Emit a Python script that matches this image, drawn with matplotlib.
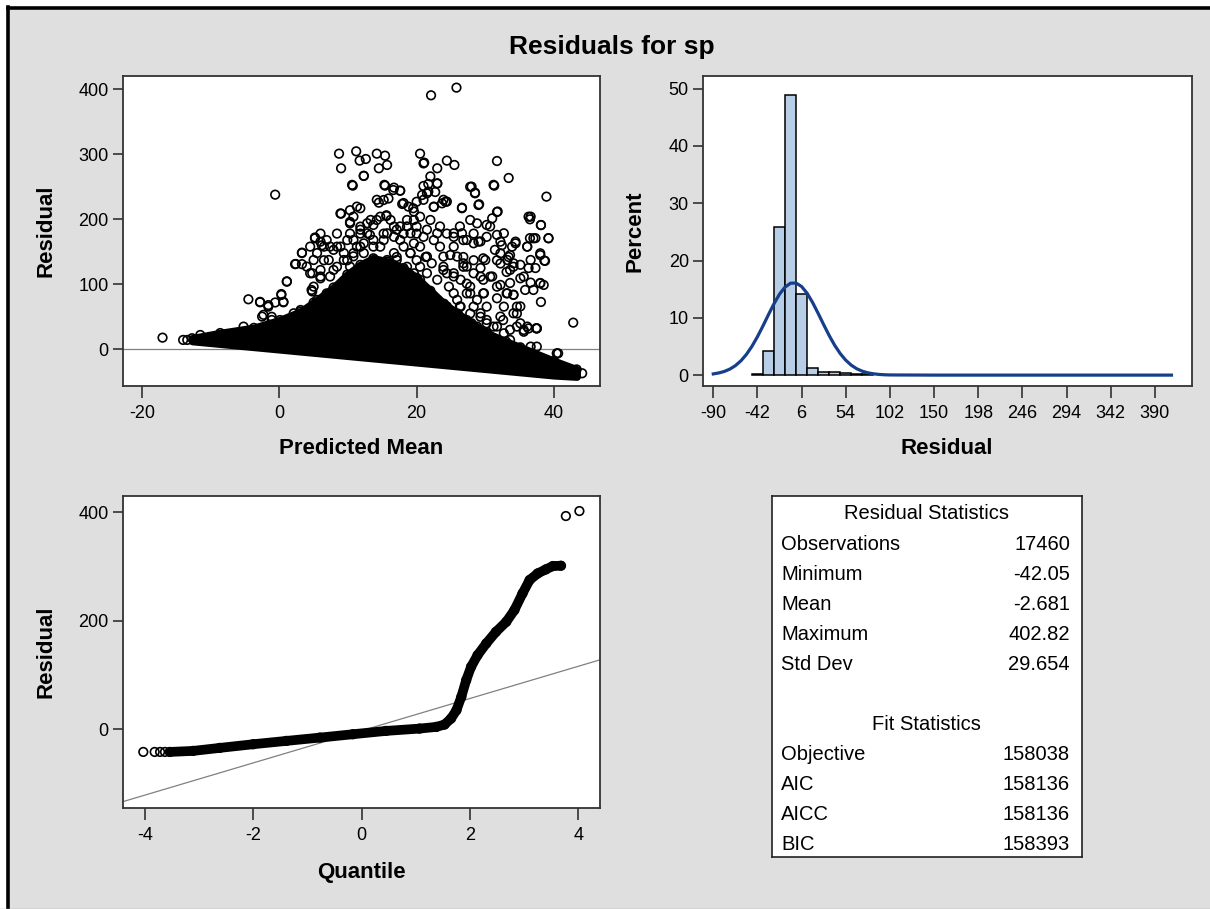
import numpy as np
import matplotlib
matplotlib.use("Agg")
import matplotlib.pyplot as plt
from matplotlib.lines import Line2D
from matplotlib.patches import Rectangle

plt.rcParams['font.family'] = ['Liberation Sans', 'DejaVu Sans']
plt.rcParams['axes.unicode_minus'] = False

W, H = 1210, 909

# ---- data ----
title = "Residuals for sp"

# residual vs predicted: outlying / sparse points (predicted mean, residual)
pred_pts = [25.8, 22.1, -0.6, -17.0, -14.0, -13.4, 8.7, 11.2, 9.0, 11.7, 12.6, 14.2, 15.4, 14.5, 15.7,
            12.3, 10.7, 20.5, 21.1, 24.4, 25.5, 23.0, 31.7, 33.4, 31.3, 38.9, 28.0, 28.5, 29.1, 26.6,
            42.8, 44.1, 31.7, 38.1, 39.2, 38.6, 38.1, 37.4, 40.6, 9.0, 5.2, 3.3, 1.1, 2.4, -4.5,
            -2.8, -1.6, 0.3, 0.6, -2.5, -1.1, -5.2, 4.7, 6.0, 15.4, 16.7, 17.6, 21.0, 23.0, 36.6,
            37.0, 36.1, 35.1, 36.6, 34.1, 36.1, 37.5, 36.6, 11.3, 10.8, 10.3, 11.8, 13.7, 14.5, 15.2,
            15.6, 17.9, 18.8, 19.6, 21.7, 20.8, 21.7, 22.5, 23.7, 24.4, 26.6, 25.4, 27.3, 28.3, 29.0,
            28.8, 30.2, 31.0, 32.7, 32.2, 33.9, 34.4, 32.2, 33.2, 34.1, 33.6, 36.6, 38.0, 35.6, 38.0,
            30.7, 31.7, 33.2, 29.8, 31.7, 32.7, 34.1, 35.1, 35.6, 28.3, 29.3, 27.3, 28.3, 29.3, 30.0,
            25.4, 25.9, 26.8, 27.8, 24.4, 24.7, 23.0, 23.4, 23.9, 20.5, 21.5, 22.2, 19.1, 20.0, 19.6,
            17.6, 16.7, 15.7, 13.7, 14.7, 15.7, 17.1, 10.8, 11.8, 12.8, 8.4, 9.4, 10.3, 11.3, 11.8,
            6.5, 7.2, 7.9, 8.9, 6.0, 5.0, 4.5, 4.0, 5.0, 3.1, 2.1, 30.2, 31.2, 32.7, 33.6, 34.6,
            32.2, 30.2, 34.6, 37.0, 35.8, 38.5, 40.0, 40.4, 37.5, 42.0, 42.9, 19.6, 20.5, 21.5, 23.0,
            25.4, 26.4, 23.4, 24.9, 26.8, 27.8, 20.5, 19.1, -11.5, -6.2]
resid_pts = [402.6, 390.8, 237.9, 17.9, 14.4, 14.4, 301.0, 304.6, 278.5, 290.3, 292.8, 301.0, 297.9, 278.5, 283.6,
             266.7, 251.8, 301.0, 287.2, 290.3, 283.6, 278.5, 289.7, 263.6, 251.8, 234.9, 250.3, 241.0, 223.1, 217.9,
             41.0, -36.9, 211.3, 191.3, 170.8, 136.4, 72.8, 32.3, -6.2, 208.7, 170.8, 148.7, 104.6, 131.3, 76.9,
             72.3, 65.6, 83.6, 72.3, 50.3, 45.1, 34.9, 91.3, 109.2, 251.8, 248.7, 244.1, 251.3, 255.4, 204.1,
             170.8, 157.9, 109.2, 102.6, 83.6, 34.9, 32.3, 4.1, 219.5, 204.1, 193.8, 188.7, 191.3, 225.6, 229.7,
             206.2, 223.6, 219.5, 211.8, 254.4, 237.4, 242.6, 219.5, 224.6, 227.2, 178.5, 178.5, 168.2, 163.1, 165.6,
             193.8, 191.3, 201.5, 178.5, 165.6, 157.9, 165.6, 147.7, 137.4, 132.3, 122.1, 137.4, 147.7, 111.8, 101.5,
             111.8, 96.4, 86.2, 86.2, 78.5, 65.6, 55.4, 40.0, 29.7, 65.6, 55.4, 127.2, 116.9, 111.8, 137.4,
             157.9, 142.6, 132.3, 96.4, 116.9, 96.4, 178.5, 157.9, 142.6, 157.9, 142.6, 132.3, 178.5, 188.7, 199.0,
             168.2, 188.7, 178.5, 168.2, 157.9, 137.4, 137.4, 168.2, 157.9, 178.5, 157.9, 137.4, 127.2, 111.8, 91.3,
             157.9, 137.4, 122.1, 96.4, 165.6, 137.4, 116.9, 127.2, 96.4, 60.5, 55.4, 45.1, 34.9, 24.6, 14.4, 34.9,
             50.3, 65.6, 65.6, 91.3, 91.3, -19.0, -19.0, -6.2, 4.1, -31.8, -36.9, 116.9, 106.7, 86.2, 75.9,
             86.2, 65.6, 55.4, 40.0, 34.9, 29.7, 45.1, 55.4, 22.0, 22.0]

# residual vs predicted: the crowded middle of the cloud
cloud_pred = [5.2, 3.3, 2.3, 3.3, 1.1, 0.3, -2.8, -1.6, -0.6, 0.6, -2.3, -1.1, 4.8, 6.0, 4.8, 6.2, 7.4, 8.9,
              10.3, 11.8, 10.3, 8.9, 10.6, 12.3, 15.3, 16.6, 17.6, 14.2, 15.9, 18.1, 19.5, 20.0, 21.0, 15.6,
              14.2, 12.8, 10.3, 11.8, 13.2, 15.2, 17.1, 18.6, 20.0, 21.5, 7.9, 9.4, 11.3, 17.1, 19.1, 21.3,
              21.0, 22.0, 23.0, 21.5, 22.7, 23.9, 22.5, 24.2, 27.8, 28.5, 29.0, 26.6, 31.2, 31.8, 36.3, 36.5,
              38.1, 36.5, 37.3, 39.2, 38.0, 38.7, 36.1, 35.1, 36.3, 37.3, 38.0, 38.5, 34.4, 33.6, 32.2, 33.1,
              34.1, 30.7, 31.7, 30.2, 32.4, 29.7, 31.4, 31.7, 33.4, 31.0, 32.2, 33.1, 33.6, 34.1, 35.1, 34.6,
              36.3, 35.6, 37.5, 27.8, 26.3, 25.4, 26.8, 28.3, 29.3, 24.9, 26.8, 28.3, 29.3, 26.8, 29.7, 23.9,
              25.4, 27.3, 27.8, 28.8, 29.7, 26.3, 27.8, 29.3, 30.2, 31.7, 32.6, 33.6, 30.7,
              4.5, 5.5, 6.5, 6.0, 7.4, 8.4, 9.9, 10.8, 12.3, 13.7, 14.7, 16.7, 18.1, 19.1, 20.0, 18.6, 17.1,
              15.7, 14.2, 12.8, 10.8, 8.9, 6.9, 5.5, 11.8, 13.3, 14.7, 16.2, 17.6, 18.6, 20.5, 22.0, 23.4,
              24.4, 22.5, 21.0, 19.6, 18.1, 16.7, 15.2, 13.7, 12.3, 10.8, 9.9, 8.4, 6.9, 6.0, 20.5, 21.5,
              23.0, 23.9, 25.4, 26.4, 27.3, 25.9, 24.4, 23.0, 22.0, 21.0, 25.4, 27.3, 28.8, 30.2, 31.7]
cloud_resid = [172, 148, 131, 131, 104, 85, 73, 68, 72, 73, 53, 50, 117, 112, 89, 160, 158, 158,
               214, 217, 196, 209, 253, 267, 253, 245, 244, 230, 232, 225, 217, 227, 230, 205,
               199, 194, 178, 184, 176, 178, 184, 189, 178, 184, 153, 148, 158, 142, 148, 142,
               286, 266, 255, 240, 242, 230, 219, 227, 250, 240, 222, 217, 253, 212, 204, 200,
               191, 171, 171, 171, 145, 136, 158, 130, 125, 125, 102, 99, 163, 145, 132, 119,
               127, 189, 176, 173, 160, 140, 153, 137, 142, 112, 99, 86, 102, 84, 66, 55,
               32, 27, 32, 199, 189, 173, 168, 178, 166, 145, 142, 137, 125, 127, 107, 122,
               112, 101, 86, 76, 86, 66, 55, 50, 40, 35, 45, 30, 19,
               158, 148, 137, 122, 112, 127, 137, 143, 148, 137, 127, 148, 158, 148, 137, 127, 117,
               107, 96, 86, 86, 76, 86, 76, 178, 199, 204, 199, 189, 199, 204, 199, 189,
               178, 168, 173, 163, 178, 173, 168, 158, 163, 148, 168, 178, 168, 178, 127, 117,
               107, 127, 117, 107, 86, 76, 66, 55, 60, 76, 50, 45, 35, 25, 14]

# the solid black mass of overlapping points: envelope
core_pred = [-12.7, -8.6, -3.7, 0.1, 3.1, 5.0, 7.9, 9.9, 11.8, 13.7, 15.7, 18.1, 20.0, 22.0, 24.0, 26.0,
             28.0, 30.2, 33.0, 35.1, 40.0, 43.3]
core_top = [17.0, 25.0, 33.0, 45.0, 58.0, 72.0, 95.0, 115.0, 130.0, 140.0, 135.0, 125.0, 110.0, 90.0,
            70.0, 55.0, 40.0, 25.0, 12.0, 3.0, -18.0, -31.0]
core_bottom = [12.7, 8.6, 3.7, -0.1, -3.1, -5.0, -7.9, -9.9, -11.8, -13.7, -15.7, -18.1, -20.0, -22.0,
               -24.0, -26.0, -28.0, -30.2, -33.0, -35.1, -40.0, -42.0]

# histogram of residuals (percent), bin width 12
bin_left = [-48, -36, -24, -12, 0, 12, 24, 36, 48, 60, 72]
bin_pct = [0.15, 4.2, 25.9, 48.9, 14.1, 1.3, 0.6, 0.6, 0.3, 0.25, 0.2]
bin_width = 12
hist_xticks = [-90, -42, 6, 54, 102, 150, 198, 246, 294, 342, 390]

# fitted normal curve as drawn (percent)
curve_x = [-90, -84, -78, -72, -66, -60, -54, -48, -42, -36, -30, -24, -18, -12, -6, 0, 6, 12, 18,
           24, 30, 36, 42, 48, 54, 60, 66, 72, 78, 84, 90, 96, 102, 150, 250, 350, 408]
curve_y = [0.21, 0.38, 0.64, 1.05, 1.65, 2.49, 3.61, 5.02, 6.70, 8.58, 10.56, 12.46, 14.13, 15.36, 16.04,
           16.07, 15.46, 14.28, 12.66, 10.77, 8.80, 6.90, 5.19, 3.75, 2.60, 1.73, 1.10, 0.68, 0.40, 0.23,
           0.12, 0.06, 0.03, 0.0, 0.0, 0.0, 0.0]

# normal quantile plot
qq_quant = [-4.03, -3.82, -3.72, -3.63, -3.54, -3.11, -2.62, -2.00, -1.39, -0.77, -0.16, 0.45, 1.07, 1.38,
            1.53, 1.65, 1.75, 1.84, 1.93, 2.02, 2.14, 2.30, 2.48, 2.67, 2.82, 2.97, 3.10, 3.25, 3.40, 3.53,
            3.68, 3.77, 4.02]
qq_resid = [-41.8, -41.8, -41.8, -41.8, -41.8, -39.9, -34.4, -27.6, -21.5, -15.4, -9.2, -3.1, 1.2, 4.3,
            8.6, 19.7, 35.0, 59.6, 90.3, 114.9, 136.4, 157.9, 179.4, 197.8, 219.4, 250.1, 274.7, 286.9,
            294.3, 300.5, 301.1, 392.6, 401.8]

# statistics table
resid_stat_names = ["Observations", "Minimum", "Mean", "Maximum", "Std Dev"]
resid_stat_values = ["17460", "-42.05", "-2.681", "402.82", "29.654"]
fit_stat_names = ["Objective", "AIC", "AICC", "BIC"]
fit_stat_values = ["158038", "158136", "158136", "158393"]
resid_mean = -2.681
resid_std = 29.654


def box(l, t, r, b):
    return [l / W, 1 - b / H, (r - l) / W, (b - t) / H]


def style(ax, xlabel, ylabel, xl_y, yl_x):
    for sp in ax.spines.values():
        sp.set_linewidth(1.3)
        sp.set_color('#333333')
    ax.tick_params(direction='out', width=1.1, labelsize=13, colors='#222222', labelcolor='black')
    ax.tick_params(axis='x', length=8.5, pad=5)
    ax.tick_params(axis='y', length=7, pad=3)
    ax.set_xlabel(xlabel, fontsize=16, fontweight='bold', va='center')
    ax.set_ylabel(ylabel, fontsize=16, fontweight='bold', va='center')
    ax.xaxis.set_label_coords(0.5, xl_y)
    ax.yaxis.set_label_coords(yl_x, 0.5)


fig = plt.figure(figsize=(W / 100, H / 100), dpi=100, facecolor='#DFDFDF')

# page frame: white margin with black rule on top and left
fig.add_artist(Rectangle((0, 1 - 7 / H), 1, 7 / H, transform=fig.transFigure, color='white', zorder=0))
fig.add_artist(Rectangle((0, 0), 7 / W, 1, transform=fig.transFigure, color='white', zorder=0))
fig.add_artist(Line2D([7.5 / W, 1], [1 - 8 / H, 1 - 8 / H], transform=fig.transFigure, color='black', lw=2.6))
fig.add_artist(Line2D([8 / W, 8 / W], [0, 1 - 7 / H], transform=fig.transFigure, color='black', lw=2.6))
fig.add_artist(Line2D([0, 1], [0.5 / H, 0.5 / H], transform=fig.transFigure, color='#AAAAAA', lw=1))

fig.text(612 / W, 1 - 47 / H, title, ha='center', va='center', fontsize=19, fontweight='bold')

# ---- residual vs predicted ----
ax1 = fig.add_axes(box(122.7, 76, 600, 386))
style(ax1, "Predicted Mean", "Residual", -0.203, -0.16)
ax1.axhline(0, color='#808080', lw=0.9, zorder=1)
ax1.fill_between(core_pred, core_bottom, core_top, facecolor='black', edgecolor='black', linewidth=5.5, zorder=2)
ax1.scatter(core_pred, core_top, s=38, facecolors='none', edgecolors='black', linewidths=1.2, zorder=3)
ax1.scatter(pred_pts + cloud_pred, resid_pts + cloud_resid, s=38, facecolors='none',
            edgecolors='black', linewidths=1.2, zorder=3)
ax1.set_xlim(-22.8, 46.7)
ax1.set_ylim(-56.5, 420.5)
ax1.set_xticks([-20, 0, 20, 40])
ax1.set_yticks([0, 100, 200, 300, 400])

# ---- histogram ----
ax2 = fig.add_axes(box(702.7, 76, 1191.7, 386))
style(ax2, "Residual", "Percent", -0.203, -0.138)
ax2.bar(bin_left, bin_pct, width=bin_width, align='edge', color='#B8CDE6', edgecolor='black', linewidth=1.1, zorder=2)
ax2.plot(curve_x, curve_y, color='#163F8A', lw=2.3, zorder=3)
ax2.set_xlim(-101.5, 430)
ax2.set_ylim(-1.9, 52.2)
ax2.set_xticks(hist_xticks)
ax2.set_yticks([0, 10, 20, 30, 40, 50])

# ---- Q-Q plot ----
ax3 = fig.add_axes(box(122.7, 496, 600, 808.3))
style(ax3, "Quantile", "Residual", -0.207, -0.16)
ax3.axline((0, resid_mean), slope=resid_std, color='#808080', lw=0.9, zorder=1)
ax3.plot(qq_quant[4:31], qq_resid[4:31], color='black', lw=7, solid_capstyle='round', zorder=2)
ax3.scatter(qq_quant, qq_resid, s=38, facecolors='none', edgecolors='black', linewidths=1.2, zorder=3)
ax3.set_xlim(-4.41, 4.40)
ax3.set_ylim(-145.6, 429.5)
ax3.set_xticks([-4, -2, 0, 2, 4])
ax3.set_yticks([0, 200, 400])

# ---- statistics table ----
ax4 = fig.add_axes(box(772, 496, 1082, 857))
ax4.set_xlim(772, 1082)
ax4.set_ylim(857, 496)
ax4.set_xticks([])
ax4.set_yticks([])
for sp in ax4.spines.values():
    sp.set_linewidth(1.2)
    sp.set_color('#222222')
fs = 14.5
ax4.text(926, 514, "Residual Statistics", ha='center', va='center', fontsize=fs)
for i, (name, val) in enumerate(zip(resid_stat_names, resid_stat_values)):
    ax4.text(781, 545 + 30 * i, name, ha='left', va='center', fontsize=fs)
    ax4.text(1070, 545 + 30 * i, val, ha='right', va='center', fontsize=fs)
ax4.text(926, 725, "Fit Statistics", ha='center', va='center', fontsize=fs)
for i, (name, val) in enumerate(zip(fit_stat_names, fit_stat_values)):
    ax4.text(781, 755 + 30 * i, name, ha='left', va='center', fontsize=fs)
    ax4.text(1070, 755 + 30 * i, val, ha='right', va='center', fontsize=fs)

fig.savefig("out.png", dpi=100, facecolor=fig.get_facecolor())
